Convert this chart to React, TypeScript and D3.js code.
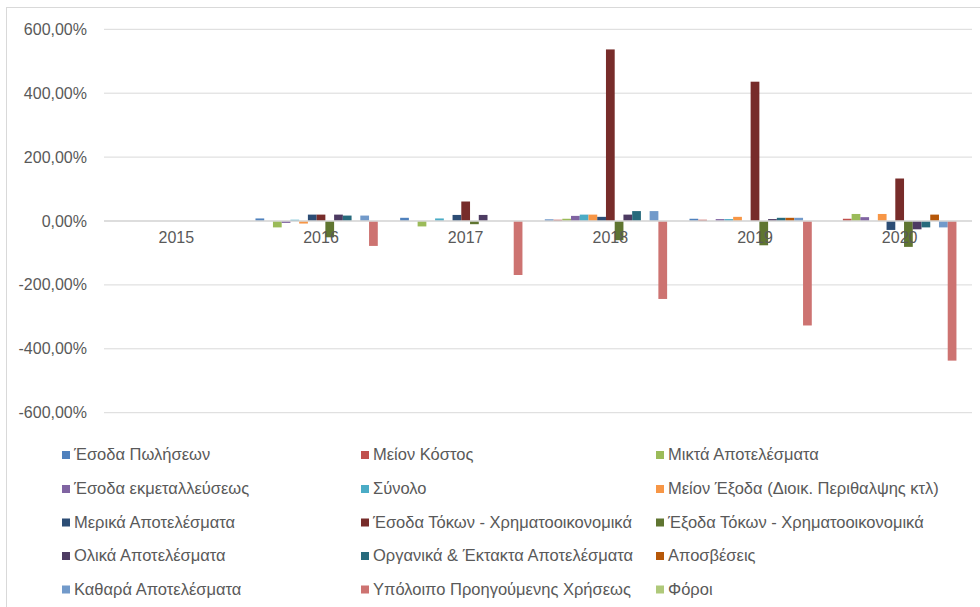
import React from "react";
import * as d3 from "d3";

const categories = ["2015", "2016", "2017", "2018", "2019", "2020"];

const seriesNames = [
  "Έσοδα Πωλήσεων",
  "Μείον Κόστος",
  "Μικτά Αποτελέσματα",
  "Έσοδα εκμεταλλεύσεως",
  "Σύνολο",
  "Μείον Έξοδα (Διοικ. Περιθαλψης κτλ)",
  "Μερικά Αποτελέσματα",
  "Έσοδα Τόκων - Χρηματοοικονομικά",
  "Έξοδα Τόκων - Χρηματοοικονομικά",
  "Ολικά Αποτελέσματα",
  "Οργανικά & Έκτακτα Αποτελέσματα",
  "Αποσβέσεις",
  "Καθαρά Αποτελέσματα",
  "Υπόλοιπο Προηγούμενης Χρήσεως",
  "Φόροι",
];

const seriesColors = [
  "#4F81BD", "#C0504D", "#9BBB59", "#8064A2", "#4BACC6", "#F79646",
  "#2C4D75", "#772C2A", "#5F7530", "#4D3B62", "#276A7C", "#B65708",
  "#729ACA", "#CD7371", "#AFC97A",
];

// values in percent, 2015..2020
const esodaPoliseon = [0, 8, 10, 5, 7, 0];
const meionKostos = [0, 0, 0, 4, 4, 7];
const miktaApotelesmata = [0, -20, -17, 7, 0, 22];
const esodaEkmetalleuseos = [0, -6, 0, 16, 6, 12];
const synolo = [0, 4, 8, 20, 6, 0];
const meionExoda = [0, -8, 0, 20, 13, 22];
const merikaApotelesmata = [0, 20, 19, 13, 0, -28];
const esodaTokon = [0, 20, 61, 537, 436, 133];
const exodaTokon = [0, -51, -10, -60, -76, -81];
const olikaApotelesmata = [0, 20, 19, 20, 6, -26];
const organikaApotelesmata = [0, 17, 0, 31, 10, -20];
const aposveseis = [0, 0, 0, 0, 10, 20];
const katharaApotelesmata = [0, 17, 0, 31, 10, -20];
const ypoloipo = [0, -78, -169, -244, -327, -437];
const foroi = [0, 0, 0, 0, 0, 0];

const seriesValues = [
  esodaPoliseon, meionKostos, miktaApotelesmata, esodaEkmetalleuseos, synolo,
  meionExoda, merikaApotelesmata, esodaTokon, exodaTokon, olikaApotelesmata,
  organikaApotelesmata, aposveseis, katharaApotelesmata, ypoloipo, foroi,
];

const yTicks = [-600, -400, -200, 0, 200, 400, 600];

const FONT = "'Liberation Sans', Arial, sans-serif";
const TEXT = "#595959";

export default function App() {
  const W = 980, H = 607;
  const plotLeft = 104, plotRight = 972;
  const y = d3.scaleLinear().domain([-600, 600]).range([412.7, 29.3]);
  const x0 = d3.scaleBand<string>().domain(categories).range([plotLeft, plotRight]).padding(0);
  const x1 = d3
    .scaleBand<number>()
    .domain(d3.range(seriesNames.length))
    .range([0, x0.bandwidth()])
    .paddingInner(0)
    .paddingOuter(0.78);

  const locale = d3.formatLocale({
    decimal: ",",
    thousands: ".",
    grouping: [3],
    currency: ["", "€"],
    minus: "-",
  });
  const fmt = locale.format(".2f");

  const legendCols = [62, 361, 656];
  const legendRows = [454, 488, 521.5, 555, 588.5];

  return (
    <svg
      width={W}
      height={H}
      style={{ position: "absolute", left: 0, top: 0, background: "#fff" }}
      fontFamily={FONT}
    >
      <rect x={0} y={0} width={W} height={H} fill="#fff" />
      <rect x={6.5} y={7.5} width={1000} height={700} fill="#fff" stroke="#d9d9d9" strokeWidth={1} />

      {yTicks.map((t) => (
        <g key={t}>
          <line x1={plotLeft} x2={plotRight} y1={y(t)} y2={y(t)} stroke="#d9d9d9" strokeWidth={1} />
          <text
            x={87}
            y={y(t)}
            textAnchor="end"
            dominantBaseline="central"
            fontSize={16}
            fill={TEXT}
          >
            {fmt(t)}%
          </text>
        </g>
      ))}

      {categories.map((c, ci) => (
        <g key={c} transform={`translate(${x0(c)},0)`}>
          {seriesValues.map((vals, si) => {
            const v = vals[ci];
            if (v === 0) return null;
            const y0 = y(0), yv = y(v);
            return (
              <rect
                key={si}
                x={x1(si)}
                y={Math.min(y0, yv)}
                width={x1.bandwidth()}
                height={Math.abs(yv - y0)}
                fill={seriesColors[si]}
              />
            );
          })}
        </g>
      ))}

      <line x1={plotLeft} x2={plotRight} y1={y(0)} y2={y(0)} stroke="#d9d9d9" strokeWidth={1.5} />

      {categories.map((c) => (
        <text
          key={c}
          x={(x0(c) as number) + x0.bandwidth() / 2}
          y={243}
          textAnchor="middle"
          fontSize={16}
          fill={TEXT}
        >
          {c}
        </text>
      ))}

      {seriesNames.map((name, i) => {
        const col = i % 3;
        const row = Math.floor(i / 3);
        const cx = legendCols[col];
        const cy = legendRows[row];
        return (
          <g key={name}>
            <rect x={cx} y={cy - 3} width={8} height={8} fill={seriesColors[i]} />
            <text x={cx + 12} y={cy + 6} fontSize={16.5} fill={TEXT}>
              {name}
            </text>
          </g>
        );
      })}
    </svg>
  );
}
